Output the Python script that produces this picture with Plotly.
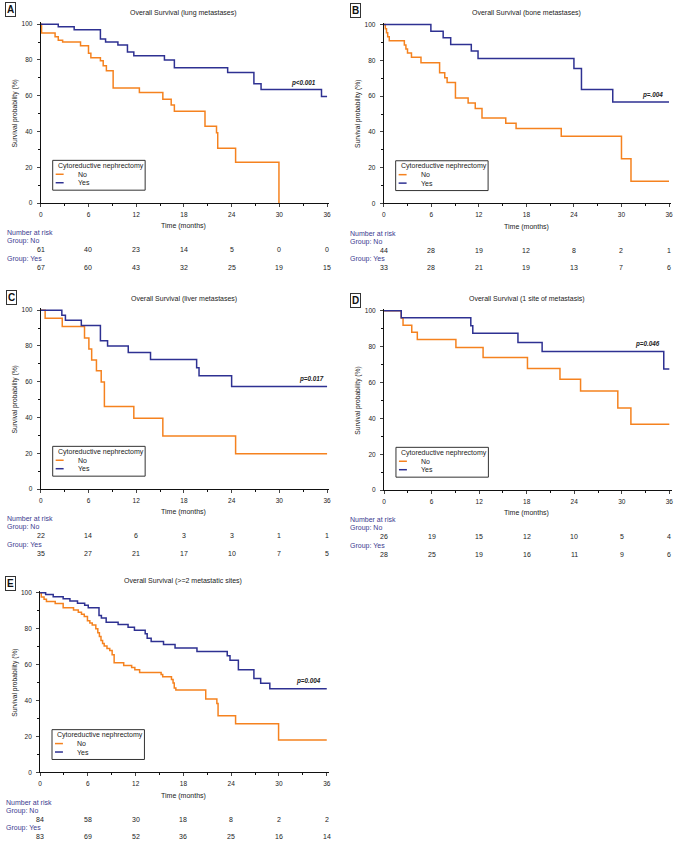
import plotly.graph_objects as go

W, H = 676, 842
ORANGE = '#f5821f'
NAVY = '#2e3192'
LABEL_BLUE = '#3b3b8f'
TEXT = '#222222'
FONT = 'Liberation Sans, Arial, sans-serif'

risk_times = [0, 6, 12, 18, 24, 30, 36]

# A - lung metastases
a_no_t = [0, 0.1, 1.8, 2.2, 2.75, 5.0, 6.0, 6.3, 7.5, 7.85, 8.25, 9.1, 12.4, 15.35, 16.4, 16.8,
          20.65, 22.1, 22.25, 24.5, 29.95]
a_no_s = [100, 95, 93, 91, 90, 88, 83.7, 81.3, 79.6, 76.7, 74, 64.3, 61.8, 58.1, 54.8, 51.3,
          43, 39.3, 30.6, 22.8, 0]
a_yes_t = [0, 2.2, 4.2, 7.5, 8.15, 9.7, 10.9, 11.7, 15.55, 16.8, 23.5, 26.8, 27.7, 35.3, 36]
a_yes_s = [100, 98.5, 96.9, 91.7, 90, 88.3, 84.4, 82.4, 80, 75.7, 73, 66.7, 63.5, 59.6, 59.6]
a_risk_no = [61, 40, 23, 14, 5, 0, 0]
a_risk_yes = [67, 60, 43, 32, 25, 19, 15]

# B - bone metastases
b_no_t = [0, 0.2, 0.35, 0.5, 0.7, 2.6, 2.8, 3.0, 3.5, 4.7, 7.05, 7.7, 8.0, 9.05, 10.65, 11.55,
          12.4, 15.4, 16.7, 22.4, 30.0, 31.2, 36]
b_no_s = [100, 97.7, 95.4, 93.2, 90.9, 88.6, 86.4, 84.1, 81.8, 78.7, 73.1, 70.3, 67.6, 58.9, 56.1,
          53.1, 47.8, 44.8, 41.9, 37.6, 25, 12.4, 12.4]
b_yes_t = [0, 5.95, 7.5, 8.45, 11.05, 11.9, 24.0, 24.95, 28.9, 36]
b_yes_s = [100, 96.3, 92.6, 88.9, 85.2, 81.1, 75.4, 63.7, 56.7, 56.7]
b_risk_no = [44, 28, 19, 12, 8, 2, 1]
b_risk_yes = [33, 28, 21, 19, 13, 7, 6]

# C - liver metastases
c_no_t = [0, 0.55, 2.7, 5.5, 6.05, 6.4, 7.0, 7.6, 8.0, 11.7, 15.35, 24.5, 36]
c_no_s = [100, 95.5, 90.9, 84.4, 78.3, 72.2, 66.1, 59.9, 46.2, 39.6, 29.7, 19.8, 19.8]
c_yes_t = [0, 2.65, 3.1, 5.1, 7.5, 8.4, 11.0, 13.8, 19.6, 19.9, 24.0, 36]
c_yes_s = [100, 97.1, 94.3, 91.4, 82.9, 80, 76.3, 72.4, 67.8, 63.3, 57.4, 57.4]
c_risk_no = [22, 14, 6, 3, 3, 1, 1]
c_risk_yes = [35, 27, 21, 17, 10, 7, 5]

# D - 1 site of metastasis
d_no_t = [0, 2.17, 2.4, 3.5, 4.2, 9.07, 12.5, 18.1, 22.2, 24.8, 29.5, 31.15, 36]
d_no_s = [100, 96, 92, 88, 84, 79.5, 74, 67.8, 61.8, 55.3, 45.8, 36.7, 36.7]
d_yes_t = [0, 2.17, 10.95, 11.2, 16.9, 19.95, 35.3, 36]
d_yes_s = [100, 96.2, 91.7, 87.5, 82.4, 77.3, 67.5, 67.5]
d_risk_no = [26, 19, 15, 12, 10, 5, 4]
d_risk_yes = [28, 25, 19, 16, 11, 9, 6]

# E - >=2 metastatic sites
e_no_t = [0, 0.15, 0.5, 0.8, 1.9, 2.9, 4.2, 4.8, 5.2, 5.55, 5.95, 6.25, 6.55, 7.0, 7.25, 7.45,
          7.65, 7.85, 8.05, 8.4, 8.75, 9.05, 9.3, 10.5, 11.5, 11.9, 12.5, 15.2, 15.4, 16.5, 16.7,
          16.85, 17.05, 20.8, 22.2, 22.35, 24.55, 29.95, 36]
e_no_s = [100, 97.6, 96.4, 95.2, 94, 91.6, 90.4, 89.2, 88, 86.8, 84.4, 83.2, 82, 80, 77.8, 75.6,
          73.4, 71.8, 70.4, 69, 67.8, 65.5, 61.1, 59.5, 58.4, 57.2, 55.6, 54.5, 53.2, 51.7, 49.8,
          47, 45.8, 40.8, 38.3, 31.5, 27.1, 18.1, 18.1]
e_yes_t = [0, 0.7, 1.65, 2.9, 3.75, 4.7, 5.6, 6.05, 7.4, 7.7, 8.3, 9.8, 11.05, 11.85, 13.2,
           13.45, 13.95, 15.5, 16.95, 19.7, 23.5, 23.85, 24.9, 26.85, 27.7, 28.85, 36]
e_yes_s = [100, 99, 97.8, 96.6, 95.4, 94.2, 93, 91.7, 87.4, 86, 83.6, 82.4, 80.8, 79.2, 77.2,
           74.7, 72.9, 71.2, 69.3, 67.3, 65, 62.4, 57.2, 52.3, 49.6, 46.6, 46.6]
e_risk_no = [84, 58, 30, 18, 8, 2, 2]
e_risk_yes = [83, 69, 52, 36, 25, 16, 14]

panels = [
    dict(letter='A', title='Overall Survival (lung metastases)', p='p<0.001', p_at=(33.1, 67),
         no=(a_no_t, a_no_s), yes=(a_yes_t, a_yes_s), risk=(a_risk_no, a_risk_yes),
         px=(39, 327, 22.3, 202.3), letter_px=(8.5, 8)),
    dict(letter='B', title='Overall Survival (bone metastases)', p='p=.004', p_at=(33.9, 60.7),
         no=(b_no_t, b_no_s), yes=(b_yes_t, b_yes_s), risk=(b_risk_no, b_risk_yes),
         px=(384, 671, 22.7, 202.7), letter_px=(355.3, 8.3)),
    dict(letter='C', title='Overall Survival (liver metastases)', p='p=0.017', p_at=(34.0, 61.5),
         no=(c_no_t, c_no_s), yes=(c_yes_t, c_yes_s), risk=(c_risk_no, c_risk_yes),
         px=(39, 327, 310, 490), letter_px=(9.2, 297)),
    dict(letter='D', title='Overall Survival (1 site of metastasis)', p='p=0.046', p_at=(33.2, 81.5),
         no=(d_no_t, d_no_s), yes=(d_yes_t, d_yes_s), risk=(d_risk_no, d_risk_yes),
         px=(384.3, 671.3, 310.7, 491), letter_px=(355.2, 300.3)),
    dict(letter='E', title='Overall Survival (>=2 metastatic sites)', p='p=0.004', p_at=(33.7, 50.7),
         no=(e_no_t, e_no_s), yes=(e_yes_t, e_yes_s), risk=(e_risk_no, e_risk_yes),
         px=(38.3, 326.7, 594.3, 775), letter_px=(8.8, 585)),
]


def fx(px):
    return px / W


def fy(py):
    return 1 - py / H


fig = go.Figure()
annotations = []
shapes = []
axes = {}

XMAX, YMAX = 36.3, 101

for i, p in enumerate(panels, start=1):
    sfx = '' if i == 1 else str(i)
    xname, yname = 'x' + sfx, 'y' + sfx
    x0, x1, ytop, ybot = p['px']
    x1r = x0 + (x1 - x0) * XMAX / 36
    ytopr = ybot - (ybot - ytop) * YMAX / 100

    for (t, s), col in ((p['no'], ORANGE), (p['yes'], NAVY)):
        fig.add_trace(go.Scatter(x=t, y=s, mode='lines', xaxis=xname, yaxis=yname,
                                 line=dict(color=col, width=1.5, shape='hv'),
                                 showlegend=False, hoverinfo='skip'))

    tickfont = dict(family=FONT, size=6.5, color=TEXT)
    axes['xaxis' + sfx] = dict(domain=[fx(x0), min(1, fx(x1r))], anchor=yname, range=[0, XMAX],
                               tickvals=risk_times, ticks='outside', ticklen=3, tickwidth=1,
                               showline=True, linecolor='#111', linewidth=1, showgrid=False,
                               zeroline=False, tickfont=tickfont, ticklabelstandoff=2,
                               minor=dict(dtick=3, tick0=0, ticks='outside', ticklen=2,
                                          tickcolor='#111', showgrid=False))
    axes['yaxis' + sfx] = dict(domain=[fy(ybot), fy(ytopr)], anchor=xname, range=[0, YMAX],
                               tickvals=[0, 20, 40, 60, 80, 100], ticks='outside', ticklen=3,
                               tickwidth=1, showline=True, linecolor='#111', linewidth=1,
                               showgrid=False, zeroline=False, tickfont=tickfont,
                               ticklabelstandoff=3,
                               minor=dict(dtick=10, tick0=0, ticks='outside', ticklen=2,
                                          tickcolor='#111', showgrid=False))

    cx = (x0 + x1) / 2
    # title
    annotations.append(dict(text=p['title'], x=fx(cx), y=fy(ytop - 11.5), xref='paper',
                            yref='paper', showarrow=False, xanchor='center', yanchor='middle',
                            font=dict(family=FONT, size=7, color=TEXT)))
    # panel letter
    lx, ly = p['letter_px']
    annotations.append(dict(text='<b>%s</b>' % p['letter'], x=fx(lx), y=fy(ly), xref='paper',
                            yref='paper', showarrow=False, xanchor='center', yanchor='middle',
                            font=dict(family=FONT, size=10, color='#111'), bordercolor='#333',
                            borderwidth=1, borderpad=1, bgcolor='white'))
    # y title
    annotations.append(dict(text='Survival probability (%)', x=fx(x0 - 26),
                            y=fy((ytop + ybot) / 2), xref='paper', yref='paper',
                            showarrow=False, textangle=-90, xanchor='center', yanchor='middle',
                            font=dict(family=FONT, size=6.7, color=TEXT)))
    # x title
    annotations.append(dict(text='Time (months)', x=fx(cx), y=fy(ybot + 23.5), xref='paper',
                            yref='paper', showarrow=False, xanchor='center', yanchor='middle',
                            font=dict(family=FONT, size=7, color=TEXT)))
    # p value
    annotations.append(dict(text='<b><i>%s</i></b>' % p['p'], x=p['p_at'][0], y=p['p_at'][1],
                            xref=xname, yref=yname, showarrow=False, xanchor='center',
                            yanchor='middle', font=dict(family=FONT, size=6.3, color='#222')))

    # legend box
    shapes.append(dict(type='rect', xref='paper', yref='paper', x0=fx(x0 + 12), x1=fx(x0 + 105),
                       y0=fy(ybot - 13), y1=fy(ybot - 43), line=dict(color='#333', width=1),
                       fillcolor='white', layer='above'))
    annotations.append(dict(text='Cytoreductive nephrectomy', x=fx(x0 + 15), y=fy(ybot - 37.5),
                            xref='paper', yref='paper', showarrow=False, xanchor='left',
                            yanchor='middle', font=dict(family=FONT, size=7, color=TEXT)))
    for lab, col, dy in (('No', ORANGE, 29), ('Yes', NAVY, 20.5)):
        shapes.append(dict(type='line', xref='paper', yref='paper', x0=fx(x0 + 15),
                           x1=fx(x0 + 23), y0=fy(ybot - dy), y1=fy(ybot - dy),
                           line=dict(color=col, width=1.5), layer='above'))
        annotations.append(dict(text=lab, x=fx(x0 + 35), y=fy(ybot - dy), xref='paper',
                                yref='paper', showarrow=False, xanchor='left', yanchor='middle',
                                font=dict(family=FONT, size=7, color=TEXT)))

    # number at risk table
    for lab, dy in (('Number at risk', 30), ('Group: No', 38.5), ('Group: Yes', 56)):
        annotations.append(dict(text=lab, x=fx(x0 - 36), y=fy(ybot + dy), xref='paper',
                                yref='paper', showarrow=False, xanchor='left', yanchor='middle',
                                font=dict(family=FONT, size=7, color=LABEL_BLUE)))
    for counts, dy in ((p['risk'][0], 47), (p['risk'][1], 64.5)):
        for t, n in zip(risk_times, counts):
            annotations.append(dict(text=str(n), x=t, y=fy(ybot + dy), xref=xname, yref='paper',
                                    showarrow=False, xanchor='center', yanchor='middle',
                                    font=dict(family=FONT, size=7, color=TEXT)))

fig.update_layout(
    width=W, height=H,
    margin=dict(l=0, r=0, t=0, b=0),
    paper_bgcolor='white', plot_bgcolor='white',
    font=dict(family=FONT, size=7, color=TEXT),
    annotations=annotations, shapes=shapes,
    showlegend=False,
    **axes
)

# drop the default page margin so the figure sits at the window's top-left corner
fig.write_html('out.html', config={'displayModeBar': False},
               post_script="document.body.style.margin='0px';"
                           "document.body.style.overflow='hidden';")
